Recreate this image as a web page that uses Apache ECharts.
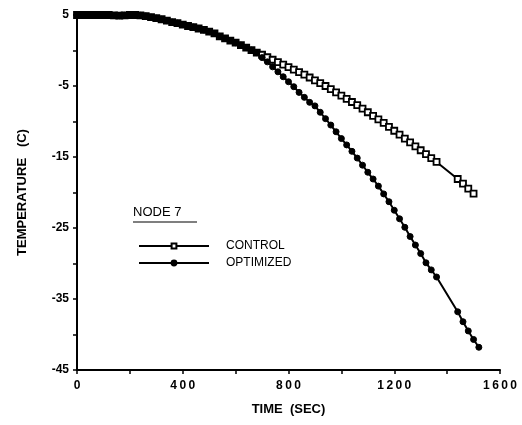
<!DOCTYPE html>
<html>
<head>
<meta charset="utf-8">
<script src="https://cdn.jsdelivr.net/npm/echarts@6/dist/echarts.min.js"></script>
<style>
  html, body { margin: 0; padding: 0; background: #fff; }
  #chart { width: 522px; height: 425px; }
</style>
</head>
<body>
<div id="chart"></div>
<script>
// time in seconds (gap between 1360 and 1440 as in the plot)
var timeEarly = [0, 20, 40, 60, 80, 100, 120, 140, 160, 180, 200, 220, 240, 260, 280, 300,
  320, 340, 360, 380, 400, 420, 440, 460, 480, 500, 520, 540, 560, 580, 600, 620, 640, 660, 680];
// both cases lie on top of each other before ~700 s
var tempEarly = [5.0, 5.0, 5.0, 5.0, 5.0, 5.0, 5.0, 4.95, 4.9, 4.95, 5.0, 5.0, 4.95, 4.85, 4.7, 4.55,
  4.4, 4.2, 4.0, 3.85, 3.65, 3.45, 3.3, 3.1, 2.9, 2.65, 2.4, 2.0, 1.7, 1.4, 1.1, 0.75, 0.4, 0.05, -0.3];

var timeLate = [700, 720, 740, 760, 780, 800, 820, 840, 860, 880, 900, 920, 940, 960, 980, 1000,
  1020, 1040, 1060, 1080, 1100, 1120, 1140, 1160, 1180, 1200, 1220, 1240, 1260, 1280, 1300,
  1320, 1340, 1360, 1440, 1460, 1480, 1500, 1520];
var controlLate = [-0.6, -0.95, -1.3, -1.65, -2.0, -2.35, -2.7, -3.05, -3.4, -3.8, -4.2, -4.6, -5.0, -5.45, -5.9, -6.35,
  -6.8, -7.25, -7.7, -8.2, -8.7, -9.2, -9.7, -10.2, -10.75, -11.3, -11.85, -12.4, -12.95, -13.5, -14.05,
  -14.6, -15.15, -15.7, -18.1, -18.75, -19.45, -20.15, null];
var optimizedLate = [-1.0, -1.6, -2.3, -3.0, -3.7, -4.4, -5.1, -5.9, -6.6, -7.3, -7.8, -8.7, -9.6, -10.5, -11.45, -12.4,
  -13.3, -14.2, -15.15, -16.15, -17.15, -18.1, -19.1, -20.2, -21.3, -22.5, -23.7, -24.9, -26.2, -27.4, -28.6,
  -29.9, -30.9, -31.9, -36.8, -38.2, -39.5, -40.7, -41.8];

var xLabels = [0, 400, 800, 1200, 1600];
var yLabels = [5, -5, -15, -25, -35, -45];

function build(late) {
  var out = [];
  timeEarly.forEach(function (t, i) { out.push([t, tempEarly[i]]); });
  timeLate.forEach(function (t, i) {
    if (late[i] !== null) out.push([t, late[i]]);
  });
  return out;
}

var FONT = '"Liberation Sans", Arial, sans-serif';
var chart = echarts.init(document.getElementById('chart'), null, { renderer: 'canvas' });

chart.setOption({
  backgroundColor: '#fff',
  animation: false,
  grid: { left: 77, right: 22, top: 15, bottom: 55 },
  xAxis: {
    type: 'value',
    min: 0, max: 1600, interval: 200,
    splitLine: { show: false },
    axisLine: { onZero: false, lineStyle: { color: '#000', width: 2 } },
    axisTick: { length: 4, lineStyle: { color: '#000', width: 1.5 } },
    axisLabel: {
      margin: 10, color: '#000', fontFamily: FONT, fontWeight: 'bold', fontSize: 12,
      formatter: function (v) { return xLabels.indexOf(v) >= 0 ? String(v).split('').join('\u2009') : ''; }
    },
    name: 'TIME  (SEC)',
    nameLocation: 'middle', nameGap: 33,
    nameTextStyle: { color: '#000', fontFamily: FONT, fontWeight: 'bold', fontSize: 13 }
  },
  yAxis: {
    type: 'value',
    min: -45, max: 5, interval: 5,
    splitLine: { show: false },
    axisLine: { onZero: false, lineStyle: { color: '#000', width: 2 } },
    axisTick: { length: 4, lineStyle: { color: '#000', width: 1.5 } },
    axisLabel: {
      margin: 8, color: '#000', fontFamily: FONT, fontWeight: 'bold', fontSize: 12,
      formatter: function (v) { return yLabels.indexOf(v) >= 0 ? String(v) : ''; }
    },
    name: 'TEMPERATURE   (C)',
    nameLocation: 'middle', nameGap: 48, nameRotate: 90,
    nameTextStyle: { color: '#000', fontFamily: FONT, fontWeight: 'bold', fontSize: 13 }
  },
  legend: {
    orient: 'vertical',
    left: 133, top: 235,
    itemWidth: 70, itemHeight: 6, itemGap: 5,
    textStyle: { color: '#000', fontFamily: FONT, fontSize: 12, padding: [0, 0, 0, 12] },
    data: ['CONTROL', 'OPTIMIZED']
  },
  graphic: [
    {
      type: 'text', left: 133, top: 206,
      style: { text: 'NODE 7', fill: '#000', font: '13px ' + FONT }
    },
    {
      type: 'line', shape: { x1: 133, y1: 222, x2: 197, y2: 222 },
      style: { stroke: '#000', lineWidth: 1.2 }
    }
  ],
  series: [
    {
      name: 'CONTROL',
      type: 'line',
      data: build(controlLate),
      clip: false,
      showAllSymbol: true,
      symbol: 'rect', symbolSize: 6,
      lineStyle: { color: '#000', width: 2 },
      itemStyle: { color: '#fff', borderColor: '#000', borderWidth: 1.8 }
    },
    {
      name: 'OPTIMIZED',
      type: 'line',
      data: build(optimizedLate),
      clip: false,
      showAllSymbol: true,
      symbol: 'circle', symbolSize: 6,
      lineStyle: { color: '#000', width: 2 },
      itemStyle: { color: '#000', borderColor: '#000', borderWidth: 1 }
    }
  ]
});
</script>
</body>
</html>
